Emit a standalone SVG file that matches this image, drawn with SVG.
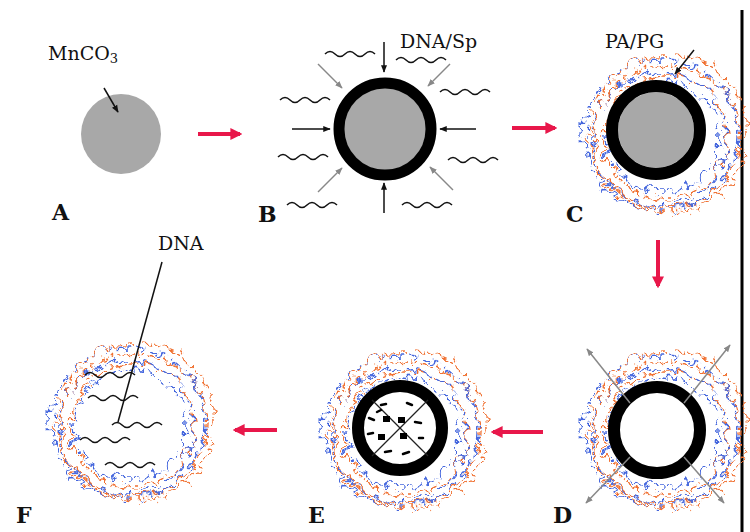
<svg xmlns="http://www.w3.org/2000/svg" xmlns:xlink="http://www.w3.org/1999/xlink" width="750" height="532" viewBox="0 0 750 532">
<style>
.lbl{font-family:"DejaVu Serif",serif;font-size:22px;font-weight:bold;fill:#111}
.lab{font-family:"DejaVu Serif",serif;font-size:19px;fill:#111}
.red{stroke:#e8174a;stroke-width:4;fill:none}
.wv{fill:none;stroke:#111;stroke-width:1.5}
.bk{stroke:#111;stroke-width:1.5;fill:none}
.gy{stroke:#888;stroke-width:1.5;fill:none}
.ring{fill:none;stroke:#000}
.o{fill:none;stroke:#f07030;stroke-width:1.4;stroke-dasharray:12 3 6 4}
.b{fill:none;stroke:#4466dd;stroke-width:1.4;stroke-dasharray:9 4 12 3}
</style>
<defs>
<marker id="rh" viewBox="0 0 10 10" refX="8" refY="5" markerWidth="3" markerHeight="3" orient="auto"><path d="M0,0L10,5L0,10z" fill="#e8174a"/></marker>
<marker id="kh" viewBox="0 0 10 10" refX="9" refY="5" markerWidth="5" markerHeight="5" orient="auto"><path d="M0,1L10,5L0,9z" fill="#111"/></marker>
<marker id="gh" viewBox="0 0 10 10" refX="9" refY="5" markerWidth="5" markerHeight="5" orient="auto"><path d="M0,1L10,5L0,9z" fill="#888"/></marker>
<path id="wave" d="M0,0 q5,-5 10,0 t10,0 t10,0 t10,0 t10,0"/>
<filter id="wig" x="-25%" y="-25%" width="150%" height="150%"><feTurbulence type="turbulence" baseFrequency="0.06" numOctaves="2" seed="7"/><feDisplacementMap in="SourceGraphic" scale="18" xChannelSelector="R" yChannelSelector="G"/></filter>
<g id="cloud" filter="url(#wig)">
<circle r="56" class="b"/><circle cx="3" r="62" class="o"/><circle cx="-3" cy="2" r="67" class="b"/><circle cx="4" r="72" class="o"/><circle cx="-2" cy="-2" r="76" class="b"/><circle cx="6" cy="-3" r="79" class="o"/>
</g>
</defs>
<line x1="742" y1="10" x2="742" y2="532" stroke="#000" stroke-width="3"/>
<g id="connectors">
<line x1="198" y1="134" x2="240" y2="134" class="red" marker-end="url(#rh)"/>
<line x1="512" y1="128" x2="555" y2="128" class="red" marker-end="url(#rh)"/>
<line x1="658" y1="240" x2="658" y2="286" class="red" marker-end="url(#rh)"/>
<line x1="543" y1="432" x2="493" y2="432" class="red" marker-end="url(#rh)"/>
<line x1="277" y1="430" x2="235" y2="430" class="red" marker-end="url(#rh)"/>
</g>
<g id="A">
<circle cx="121" cy="134" r="40" fill="#a8a8a8"/>
<text class="lab" x="48" y="60">MnCO<tspan font-size="13" dy="3">3</tspan></text>
<line x1="104" y1="88" x2="118" y2="112" class="bk" marker-end="url(#kh)"/>
<text class="lbl" x="52" y="220">A</text>
</g>
<g id="B">
<circle cx="385" cy="129" r="41" fill="#a8a8a8"/>
<circle cx="385" cy="129" r="46" class="ring" stroke-width="11"/>
<text class="lab" x="400" y="48">DNA/Sp</text>
<line x1="384" y1="42" x2="384" y2="72" class="bk" marker-end="url(#kh)"/>
<line x1="384" y1="213" x2="384" y2="183" class="bk" marker-end="url(#kh)"/>
<line x1="292" y1="129" x2="330" y2="129" class="bk" marker-end="url(#kh)"/>
<line x1="476" y1="129" x2="440" y2="129" class="bk" marker-end="url(#kh)"/>
<line x1="318" y1="64" x2="342" y2="88" class="gy" marker-end="url(#gh)"/>
<line x1="450" y1="64" x2="428" y2="86" class="gy" marker-end="url(#gh)"/>
<line x1="318" y1="192" x2="342" y2="168" class="gy" marker-end="url(#gh)"/>
<line x1="453" y1="190" x2="430" y2="167" class="gy" marker-end="url(#gh)"/>
<use href="#wave" class="wv" x="325" y="54"/>
<use href="#wave" class="wv" x="396" y="60"/>
<use href="#wave" class="wv" x="280" y="100"/>
<use href="#wave" class="wv" x="440" y="92"/>
<use href="#wave" class="wv" x="278" y="157"/>
<use href="#wave" class="wv" x="448" y="160"/>
<use href="#wave" class="wv" x="287" y="205"/>
<use href="#wave" class="wv" x="402" y="205"/>
<text class="lbl" x="258" y="222">B</text>
</g>
<g id="C">
<use href="#cloud" x="658" y="132"/>
<circle cx="656" cy="130" r="38" fill="#a8a8a8"/>
<circle cx="656" cy="130" r="44" class="ring" stroke-width="12"/>
<text class="lab" x="605" y="48">PA/PG</text>
<line x1="694" y1="50" x2="675" y2="74" class="bk" marker-end="url(#kh)"/>
<text class="lbl" x="566" y="222">C</text>
</g>
<g id="D">
<use href="#cloud" x="658" y="428"/>
<circle cx="657" cy="430" r="37" fill="#fff"/>
<circle cx="657" cy="430" r="43" class="ring" stroke-width="12"/>
<line x1="630" y1="403" x2="587" y2="349" class="gy" marker-end="url(#gh)"/>
<line x1="684" y1="403" x2="730" y2="345" class="gy" marker-end="url(#gh)"/>
<line x1="630" y1="457" x2="586" y2="503" class="gy" marker-end="url(#gh)"/>
<line x1="684" y1="457" x2="724" y2="503" class="gy" marker-end="url(#gh)"/>
<text class="lbl" x="553" y="523">D</text>
</g>
<g id="E">
<use href="#cloud" x="398" y="428"/>
<circle cx="400" cy="428" r="36" fill="#fff"/>
<circle cx="400" cy="428" r="42" class="ring" stroke-width="12"/>
<g stroke="#222" stroke-width="1.2">
<line x1="372" y1="400" x2="428" y2="456"/><line x1="428" y1="400" x2="372" y2="456"/></g>
<g fill="#000"><rect x="383" y="416" width="7" height="6"/><rect x="398" y="417" width="7" height="6"/><rect x="378" y="434" width="7" height="6"/><rect x="400" y="433" width="7" height="6"/></g>
<g stroke="#000" stroke-width="2.5" stroke-linecap="round"><line x1="381" y1="405" x2="386" y2="404"/><line x1="407" y1="403" x2="412" y2="405"/><line x1="369" y1="418" x2="374" y2="420"/><line x1="415" y1="422" x2="421" y2="423"/><line x1="368" y1="434" x2="373" y2="433"/><line x1="419" y1="438" x2="423" y2="438"/><line x1="385" y1="452" x2="391" y2="451"/><line x1="403" y1="454" x2="409" y2="452"/><line x1="377" y1="412" x2="381" y2="410"/></g>
<text class="lbl" x="308" y="523">E</text>
</g>
<g id="F">
<use href="#cloud" x="125" y="420"/>
<use href="#wave" class="wv" x="85" y="375"/>
<use href="#wave" class="wv" x="88" y="398"/>
<use href="#wave" class="wv" x="112" y="425"/>
<use href="#wave" class="wv" x="80" y="440"/>
<use href="#wave" class="wv" x="105" y="465"/>
<text class="lab" x="158" y="250">DNA</text>
<line x1="162" y1="262" x2="118" y2="422" class="bk"/>
<text class="lbl" x="16" y="523">F</text>
</g>
</svg>
